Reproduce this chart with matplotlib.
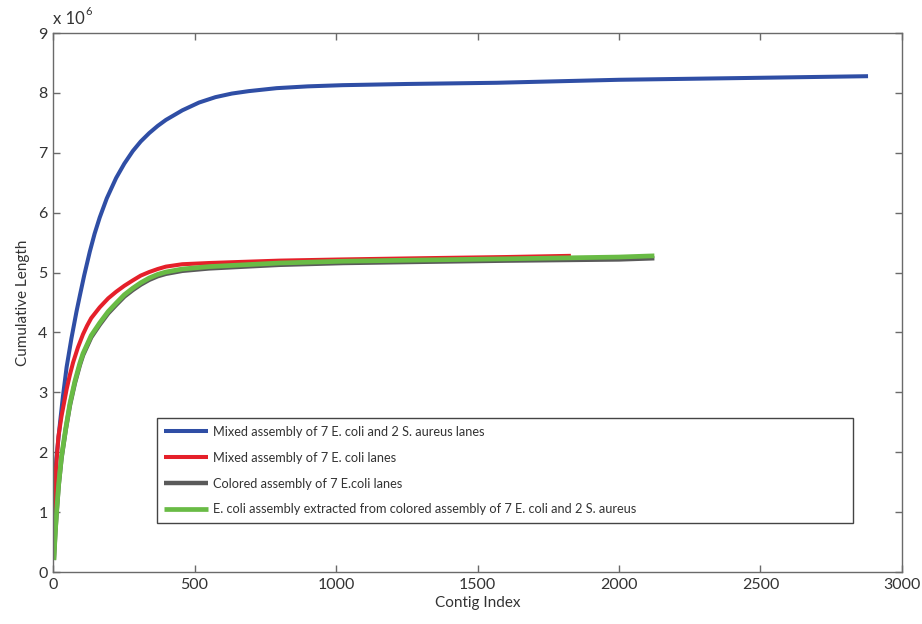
import matplotlib
matplotlib.use("Agg")
import matplotlib.pyplot as plt
import numpy as np

# Cumulative contig length curves (values in units of 1e6)
blue_x = [1, 5, 12, 25, 35, 48, 65, 83, 95, 110, 130, 147, 165, 190, 223, 252, 282,
          310, 340, 370, 399, 457, 516, 574, 632, 691, 790, 900, 1024, 1250, 1568,
          2000, 2450, 2880]
blue_y = [0.8, 1.4, 1.9, 2.5, 2.93, 3.42, 3.9, 4.35, 4.62, 4.95, 5.35, 5.65, 5.92,
          6.24, 6.58, 6.82, 7.03, 7.19, 7.33, 7.45, 7.55, 7.71, 7.84, 7.93, 7.99, 8.03,
          8.08, 8.11, 8.13, 8.15, 8.17, 8.22, 8.25, 8.28]

red_x = [1, 5, 10, 19, 30, 48, 60, 71, 88, 106, 120, 135, 165, 195, 223, 252, 282,
         310, 340, 370, 399, 457, 551, 674, 800, 1024, 1300, 1600, 1830]
red_y = [0.87, 1.3, 1.7, 2.26, 2.6, 3.05, 3.3, 3.5, 3.75, 3.97, 4.11, 4.24, 4.42,
         4.57, 4.68, 4.78, 4.87, 4.95, 5.01, 5.06, 5.1, 5.14, 5.16, 5.18, 5.2, 5.22,
         5.24, 5.26, 5.28]

gray_x = [3, 8, 13, 20, 30, 45, 60, 77, 95, 106, 135, 165, 195, 223, 252, 282, 310,
          340, 370, 399, 457, 551, 674, 800, 1024, 1300, 1600, 2000, 2125]
gray_y = [0.2, 0.65, 1.01, 1.45, 1.9, 2.38, 2.79, 3.15, 3.46, 3.62, 3.92, 4.13, 4.32,
          4.46, 4.6, 4.71, 4.8, 4.88, 4.94, 4.98, 5.03, 5.07, 5.1, 5.13, 5.16, 5.18,
          5.2, 5.22, 5.24]

green_x = [3, 8, 13, 20, 30, 45, 60, 77, 95, 106, 135, 165, 195, 223, 252, 282, 310,
           340, 370, 399, 457, 551, 674, 800, 1024, 1300, 1600, 2000, 2125]
green_y = [0.2, 0.66, 1.03, 1.47, 1.93, 2.4, 2.82, 3.18, 3.49, 3.65, 3.95, 4.16, 4.35,
           4.49, 4.63, 4.74, 4.83, 4.91, 4.97, 5.01, 5.06, 5.1, 5.13, 5.16, 5.19, 5.21,
           5.23, 5.26, 5.28]

labels = [
    "Mixed assembly of 7 E. coli and 2 S. aureus lanes",
    "Mixed assembly of 7 E. coli lanes",
    "Colored assembly of 7 E.coli lanes",
    "E. coli assembly extracted from colored assembly of 7 E. coli and 2 S. aureus",
]

BLUE = "#2f4ea5"
RED = "#e5202a"
GRAY = "#5a5a5a"
GREEN = "#69bb45"
AXIS_GRAY = "#6a6a6a"
TEXT = "#333333"

plt.rcParams["font.family"] = ["Lato", "DejaVu Sans"]

fig = plt.figure(figsize=(9.22, 6.24), dpi=100)
ax = fig.add_axes([0.0575, 0.0833, 0.9208, 0.8637])

scale = 1e6
line_kw = dict(solid_capstyle="butt", solid_joinstyle="round")
ax.plot(blue_x, np.array(blue_y) * scale, color=BLUE, lw=2.9, label=labels[0], **line_kw)
ax.plot(red_x, np.array(red_y) * scale, color=RED, lw=2.9, label=labels[1], **line_kw)
ax.plot(gray_x, np.array(gray_y) * scale, color=GRAY, lw=3.2, label=labels[2], **line_kw)
ax.plot(green_x, np.array(green_y) * scale, color=GREEN, lw=3.4, label=labels[3], **line_kw)

ax.set_xlim(0, 3000)
ax.set_ylim(0, 9e6)
ax.set_xticks(np.arange(0, 3001, 500))
ax.set_yticks(np.arange(0, 9.1e6, 1e6))
ax.set_yticklabels([str(i) for i in range(10)])

for s in ax.spines.values():
    s.set_color(AXIS_GRAY)
    s.set_linewidth(1.0)
ax.tick_params(direction="in", top=True, right=True, length=5, width=1,
               color=AXIS_GRAY, labelsize=11.5, labelcolor=TEXT, pad=4)

ax.set_xlabel("Contig Index", fontsize=11, color=TEXT, labelpad=3)
ax.set_ylabel("Cumulative Length", fontsize=11, color=TEXT, labelpad=6)

# MATLAB-style exponent label
ax.text(0.0, 1.012, "x 10", transform=ax.transAxes, fontsize=12, color=TEXT,
        ha="left", va="bottom")
ax.text(0.038, 1.03, "6", transform=ax.transAxes, fontsize=8, color=TEXT,
        ha="left", va="bottom")

leg = ax.legend(loc="lower left", bbox_to_anchor=(0.122, 0.091, 0.82, 0.198),
                mode="expand", borderaxespad=0, fontsize=9.2, frameon=True,
                fancybox=False, framealpha=1, edgecolor="#444444",
                handlelength=3.4, handletextpad=0.45, labelspacing=1.08,
                borderpad=0.6)
leg.get_frame().set_linewidth(1.0)
for t in leg.get_texts():
    t.set_color(TEXT)

fig.savefig("out.png", dpi=100, facecolor="white")
